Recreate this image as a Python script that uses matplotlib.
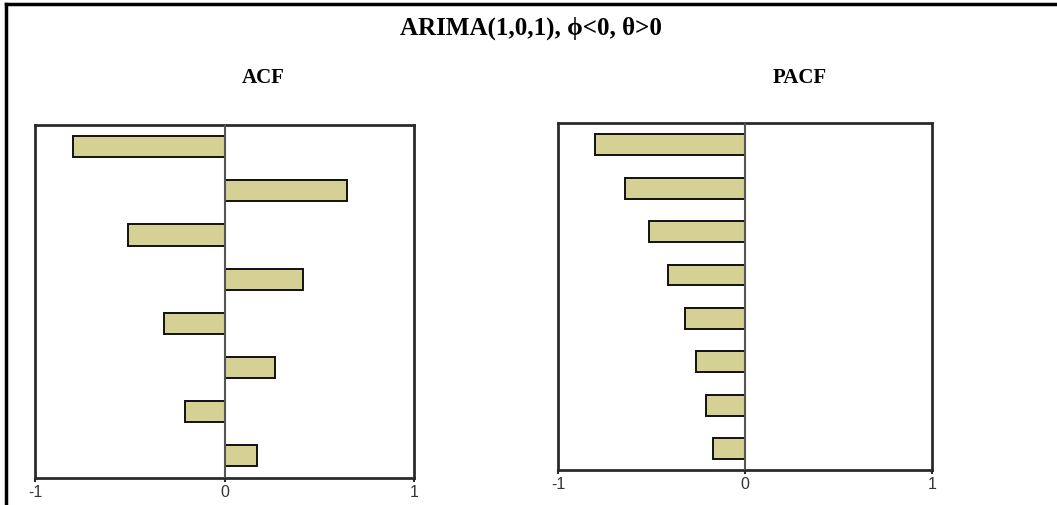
import matplotlib
matplotlib.use('Agg')
import matplotlib.pyplot as plt
from matplotlib.lines import Line2D

lags = [1, 2, 3, 4, 5, 6, 7, 8]
acf_values = [-0.80, 0.644, -0.51, 0.413, -0.318, 0.265, -0.209, 0.172]
pacf_values = [-0.80, -0.642, -0.513, -0.412, -0.321, -0.262, -0.210, -0.171]
tick_values = [-1, 0, 1]
tick_labels = ['-1', '0', '1']

bar_color = '#d5d094'
spine_color = '#2b2b2b'


def draw_panel(ax, values):
    ax.barh(lags, values, height=0.48, color=bar_color,
            edgecolor='#111111', linewidth=1.4, zorder=2)
    ax.axvline(0, color='#555555', linewidth=1.5, zorder=3)
    ax.set_xlim(-1, 1)
    ax.set_ylim(8.5, 0.5)
    ax.set_xticks(tick_values)
    ax.set_xticklabels(tick_labels, fontfamily='Liberation Sans',
                       fontsize=11.5, color='#333333')
    ax.set_yticks([])
    ax.tick_params(axis='x', length=3, width=1.5, color=spine_color, pad=2)
    for s in ax.spines.values():
        s.set_color(spine_color)
        s.set_linewidth(2)


fig = plt.figure(figsize=(10.57, 5.05), dpi=100)

ax1 = fig.add_axes([0.0331, 0.0541, 0.3586, 0.699])
draw_panel(ax1, acf_values)

ax2 = fig.add_axes([0.5279, 0.0687, 0.3541, 0.6877])
draw_panel(ax2, pacf_values)

serif = dict(fontfamily='Liberation Serif', fontweight='bold',
             ha='center', va='center', color='black')
fig.text(531 / 1057, 1 - 28 / 505, 'ARIMA(1,0,1), \u03d5<0, \u03b8>0',
         fontsize=18, **serif)
fig.text(263 / 1057, 1 - 78 / 505, 'ACF', fontsize=15, **serif)
fig.text(800 / 1057, 1 - 78 / 505, 'PACF', fontsize=15, **serif)

# outer frame: only top and left edges are visible
fig.add_artist(Line2D([6 / 1057, 6 / 1057], [0, 1 - 4 / 505],
                      transform=fig.transFigure, color='black', linewidth=2.5))
fig.add_artist(Line2D([6 / 1057, 1], [1 - 4 / 505, 1 - 4 / 505],
                      transform=fig.transFigure, color='black', linewidth=2.5))

fig.savefig('out.png', dpi=100)
